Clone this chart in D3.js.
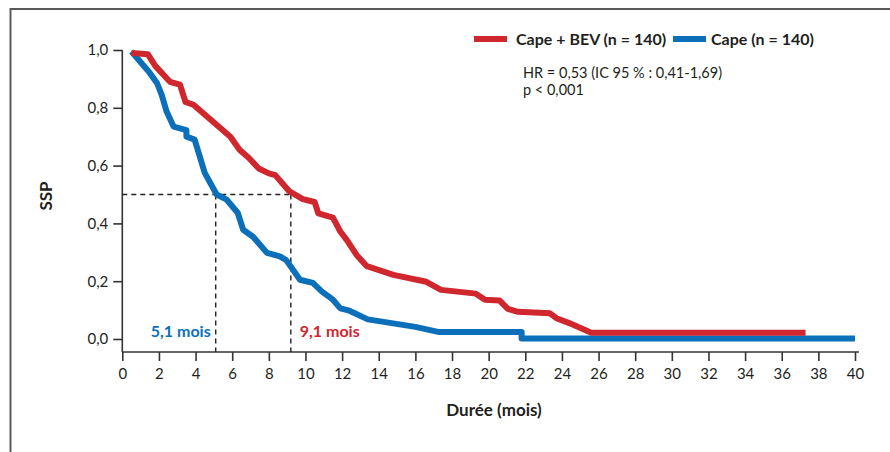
<!DOCTYPE html>
<html><head><meta charset="utf-8">
<script src="https://cdn.jsdelivr.net/npm/d3@7"></script>
<style>
html,body{margin:0;padding:0;background:#fff;}
svg{display:block;}
text{font-family:Lato,"Open Sans",sans-serif;}
</style></head>
<body><svg id="chart" width="890" height="452"></svg>
<script>
// ---- data ----
const seriesNames = ["Cape + BEV (n = 140)", "Cape (n = 140)"];
const redTimes = [0.5,1.4,1.8,2.6,3.15,3.45,3.9,5.9,6.4,6.9,7.45,8.0,8.35,9.1,9.85,10.5,10.7,11.5,11.9,12.25,12.8,13.35,14.8,16.6,17.4,19.3,19.8,20.6,21.05,21.6,23.35,23.7,24.4,25.6,37.3];
const redSurv  = [0.99,0.985,0.945,0.89,0.88,0.82,0.81,0.70,0.655,0.627,0.59,0.573,0.567,0.512,0.484,0.474,0.435,0.42,0.372,0.343,0.29,0.252,0.222,0.198,0.17,0.157,0.136,0.133,0.104,0.094,0.089,0.072,0.055,0.022,0.022];
const blueTimes = [0.5,1.45,1.9,2.15,2.42,2.8,3.5,3.5,3.95,4.5,5.15,5.7,6.3,6.6,7.15,7.9,8.6,8.95,9.7,10.4,10.9,11.5,11.9,12.4,13.4,16.0,17.3,21.8,21.8,40];
const blueSurv  = [0.995,0.925,0.885,0.845,0.787,0.735,0.723,0.70,0.69,0.575,0.50,0.482,0.437,0.378,0.353,0.298,0.286,0.273,0.205,0.194,0.164,0.136,0.106,0.098,0.068,0.042,0.024,0.024,0.002,0.002];
const medianTimes = [5.1, 9.2];
const medianLabels = ["5,1 mois", "9,1 mois"];
const medianSurv = 0.5;
const xTicks = d3.range(0, 41, 2);
const yTicks = [0, 0.2, 0.4, 0.6, 0.8, 1.0];
const statLines = ["HR = 0,53 (IC 95 % : 0,41-1,69)", "p < 0,001"];
const xTitle = "Durée (mois)";
const yTitle = "SSP";

const RED = "#d0262e", BLUE = "#0b70b9", INK = "#333", TXT = "#231f20";

// ---- chart ----
const svg = d3.select("#chart");
const x = d3.scaleLinear().domain([0, 40]).range([122.3, 855]);
const y = d3.scaleLinear().domain([0, 1]).range([339, 50]);
const axisY = 352;
const fmt = d => d3.format(".1f")(d).replace(".", ",");

// frame
svg.append("path").attr("d", "M10.5,452 V9 H890").attr("fill", "none")
  .attr("stroke", "#5a5a5a").attr("stroke-width", 2);

// x axis
const gx = svg.append("g").attr("transform", `translate(0,${axisY})`)
  .call(d3.axisBottom(x).tickValues(xTicks).tickFormat(d3.format("d")).tickSize(9).tickSizeOuter(0).tickPadding(7));
gx.select(".domain").attr("d", `M${x(0)},0 H${x(40) + 4}`);
// y axis
const gy = svg.append("g").attr("transform", `translate(${x(0)},0)`)
  .call(d3.axisLeft(y).tickValues(yTicks).tickFormat(fmt).tickSize(9).tickSizeOuter(0).tickPadding(5));
gy.select(".domain").attr("d", `M0,${y(1)} V${axisY}`);
[gx, gy].forEach(g => {
  g.selectAll(".domain").attr("stroke", INK).attr("stroke-width", 1.6);
  g.selectAll(".tick line").attr("stroke", INK).attr("stroke-width", 1.6);
  g.selectAll(".tick text").attr("fill", TXT).style("font-size", "15px").style("font-family", "Lato, sans-serif");
});

// axis titles
svg.append("text").attr("x", 494).attr("y", 416).attr("text-anchor", "middle")
  .style("font-size", "17px").style("font-weight", "bold").attr("fill", TXT).text(xTitle);
svg.append("text").attr("transform", `translate(52,${196}) rotate(-90)`).attr("text-anchor", "middle")
  .style("font-size", "17px").style("font-weight", "bold").attr("fill", TXT).text(yTitle);

// median dashed lines
const dash = svg.append("g").attr("stroke", "#222").attr("stroke-width", 1.4).attr("stroke-dasharray", "5,4").attr("fill", "none");
dash.append("line").attr("x1", x(0)).attr("x2", x(medianTimes[1])).attr("y1", y(medianSurv)).attr("y2", y(medianSurv));
medianTimes.forEach(t => dash.append("line").attr("x1", x(t)).attr("x2", x(t)).attr("y1", y(medianSurv)).attr("y2", axisY));

// curves
const line = d3.line().x(d => x(d[0])).y(d => y(d[1]));
const redData = redTimes.map((t, i) => [t, redSurv[i]]);
const blueData = blueTimes.map((t, i) => [t, blueSurv[i]]);
svg.append("path").datum(blueData).attr("d", line).attr("fill", "none").attr("stroke", BLUE)
  .attr("stroke-width", 6).attr("stroke-linejoin", "round");
svg.append("path").datum(redData).attr("d", line).attr("fill", "none").attr("stroke", RED)
  .attr("stroke-width", 6).attr("stroke-linejoin", "round");

// median labels
svg.append("text").attr("x", x(medianTimes[0]) - 5).attr("y", 337).attr("text-anchor", "end")
  .style("font-size", "16px").style("font-weight", "bold").attr("fill", BLUE).text(medianLabels[0]);
svg.append("text").attr("x", x(medianTimes[1]) + 9).attr("y", 337).attr("text-anchor", "start")
  .style("font-size", "16px").style("font-weight", "bold").attr("fill", RED).text(medianLabels[1]);

// legend
const legColors = [RED, BLUE];
const legX = [474, 673];
seriesNames.forEach((n, i) => {
  svg.append("line").attr("x1", legX[i]).attr("x2", legX[i] + 33).attr("y1", 39).attr("y2", 39)
    .attr("stroke", legColors[i]).attr("stroke-width", 6);
  svg.append("text").attr("x", legX[i] + 42 - (i ? 4 : 0)).attr("y", 45)
    .style("font-size", "16px").style("font-weight", "bold").attr("fill", TXT).text(n);
});

// stats
statLines.forEach((s, i) => {
  svg.append("text").attr("x", 523).attr("y", 78 + i * 17)
    .style("font-size", "14.5px").attr("fill", TXT).text(s);
});
</script></body></html>
